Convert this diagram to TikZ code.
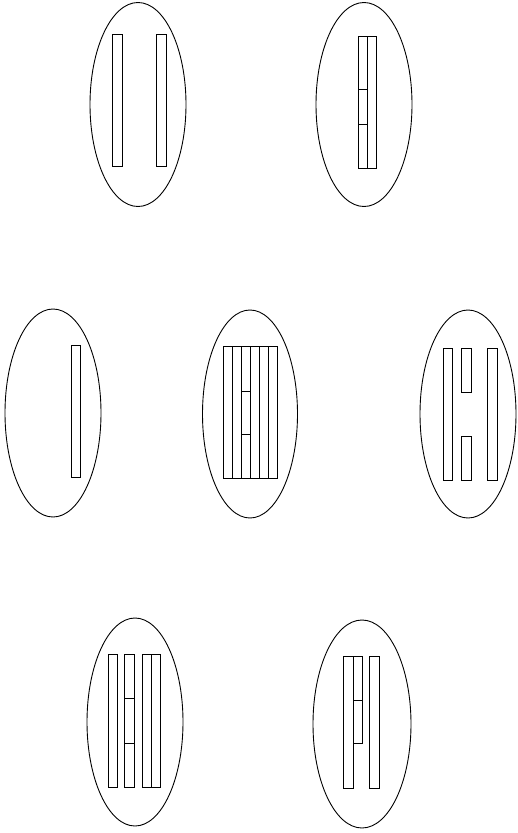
\documentclass[tikz,border=0pt]{standalone}
\begin{document}
\begin{tikzpicture}[x=1pt,y=-1pt,
  cell/.style={draw=black,line width=0.9pt},
  bar/.style={draw=black,line width=0.8pt},
  div/.style={draw=black,line width=0.8pt}]
\useasboundingbox (0,0) rectangle (518,833);
% ellipse 1
\draw[cell] (138,104.5) ellipse [x radius=48,y radius=102];
\draw[bar] (112,34) rectangle (122,166);
\draw[bar] (156,34) rectangle (166,166);
% ellipse 2
\draw[cell] (364,104.5) ellipse [x radius=48,y radius=102];
\draw[bar] (358,36) rectangle (376,168);
\draw[div] (367,36) -- (367,168);
\draw[div] (358,89) -- (367,89);
\draw[div] (358,124) -- (367,124);
% ellipse 3
\draw[cell] (53,413) ellipse [x radius=48,y radius=104];
\draw[bar] (71,345) rectangle (80,477);
% ellipse 4
\draw[cell] (250,414) ellipse [x radius=47.5,y radius=104];
\draw[bar] (223,346) rectangle (277,478);
\foreach \x in {232,241,250,259,268} \draw[div] (\x,346) -- (\x,478);
\draw[div] (241,391) -- (250,391);
\draw[div] (241,434) -- (250,434);
% ellipse 5
\draw[cell] (468,414) ellipse [x radius=48,y radius=104];
\draw[bar] (443,348) rectangle (452,480);
\draw[bar] (461,348) rectangle (471,392);
\draw[bar] (461,436) rectangle (471,480);
\draw[bar] (487,348) rectangle (497,480);
% ellipse 6
\draw[cell] (135,722) ellipse [x radius=48,y radius=104];
\draw[bar] (108,654) rectangle (117,787);
\draw[bar] (124,654) rectangle (134,787);
\draw[div] (124,698) -- (134,698);
\draw[div] (124,743) -- (134,743);
\draw[bar] (142,654) rectangle (160,787);
\draw[div] (151,654) -- (151,787);
% ellipse 7
\draw[cell] (362,724) ellipse [x radius=49,y radius=104];
\draw[bar] (343,656) rectangle (353,788);
\draw[bar] (353,656) rectangle (362,743);
\draw[div] (353,700) -- (362,700);
\draw[bar] (369,656) rectangle (379,788);
\end{tikzpicture}
\end{document}
